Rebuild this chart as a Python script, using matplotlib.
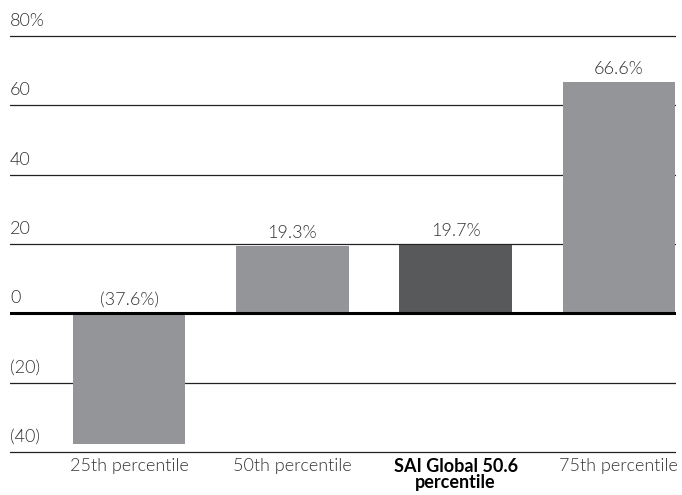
import matplotlib
matplotlib.use("Agg")
import matplotlib.pyplot as plt

# chart data
categories = ["25th percentile", "50th percentile", "SAI Global 50.6\npercentile", "75th percentile"]
values = [-37.6, 19.3, 19.7, 66.6]
value_labels = ["(37.6%)", "19.3%", "19.7%", "66.6%"]
bar_colors = ["#939598", "#939598", "#58595b", "#939598"]
y_ticks = [-40, -20, 0, 20, 40, 60, 80]
y_tick_labels = ["(40)", "(20)", "0", "20", "40", "60", "80%"]

plt.rcParams["font.family"] = ["Lato", "DejaVu Sans"]
txt = "#333333"
fs = 13
fw = 300

fig = plt.figure(figsize=(6.82, 4.95), dpi=100)
ax = fig.add_axes([0.0147, 0.0826, 0.9765, 0.849])

x = list(range(len(categories)))
ax.bar(x, values, width=0.69, color=bar_colors, zorder=2)

ax.set_xlim(-0.73, 3.35)
ax.set_ylim(-40.6, 80.6)

# gridlines with labels sitting above each line
for t, lab in zip(y_ticks, y_tick_labels):
    if t == 0:
        ax.axhline(t, color="black", lw=2.2, zorder=3)
    else:
        ax.axhline(t, color="#222222", lw=0.9, zorder=1)
    ax.text(-0.73, t + 2.0, lab, ha="left", va="bottom", fontsize=fs,
            color=txt, fontweight=fw)

for xi, v, lab in zip(x, values, value_labels):
    y = max(v, 0) + 1.7
    ax.text(xi, y, lab, ha="center", va="bottom", fontsize=fs, color=txt,
            fontweight=fw)

ax.set_xticks(x)
ax.set_xticklabels(categories, fontsize=fs, color=txt, fontweight=fw)
sai = ax.get_xticklabels()[2]
sai.set_fontweight("bold")
sai.set_color("black")
sai.set_linespacing(0.9)
ax.tick_params(axis="x", length=0, pad=3)
ax.set_yticks([])
for s in ax.spines.values():
    s.set_visible(False)

fig.savefig("out.png", dpi=100)
